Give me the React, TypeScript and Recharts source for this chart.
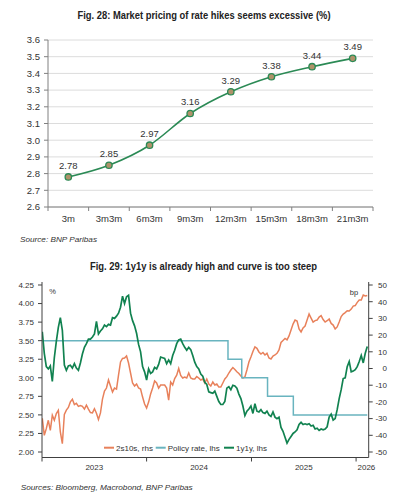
import React from 'react';
import { LineChart, Line, XAxis, YAxis, CartesianGrid, LabelList } from 'recharts';

const FONT = '"Liberation Sans", Arial, Helvetica, sans-serif';

// ---- Fig. 28: market pricing of the policy path (%) ----
const TENORS = ['3m', '3m3m', '6m3m', '9m3m', '12m3m', '15m3m', '18m3m', '21m3m'];
const PRICED_RATE = [2.78, 2.85, 2.97, 3.16, 3.29, 3.38, 3.44, 3.49];
const RATE_TICKS = [2.6, 2.7, 2.8, 2.9, 3.0, 3.1, 3.2, 3.3, 3.4, 3.5, 3.6];

// ---- Fig. 29: 1y1y, 2s10s and policy rate (weekly observations) ----
const WEEK_START = '2023-01-02';
const ONE_Y_ONE_Y = [
  3.62, 3.33, 3.15, 3.12, 3.16, 2.95, 3.27, 3.49, 3.68, 3.81,
  3.64, 3.17, 3.10, 3.16, 3.17, 3.13, 3.19, 3.13, 3.10, 3.20,
  3.32, 3.41, 3.46, 3.52, 3.52, 3.55, 3.59, 3.76, 3.59, 3.63,
  3.66, 3.71, 3.69, 3.72, 3.71, 3.81, 3.80, 3.83, 3.87, 3.95,
  4.10, 4.00, 4.09, 4.11, 3.87, 3.77, 3.70, 3.60, 3.45, 3.35,
  3.15, 3.08, 2.97, 3.12, 3.06, 3.08, 3.14, 3.12, 3.18, 3.28,
  3.27, 3.26, 3.19, 3.24, 3.19, 3.30, 3.37, 3.46, 3.51, 3.52,
  3.46, 3.41, 3.37, 3.41, 3.38, 3.30, 3.21, 3.15, 3.12, 3.05,
  3.02, 2.94, 2.91, 2.81, 2.80, 2.79, 2.82, 2.75, 2.68, 2.64,
  2.64, 2.68, 2.86, 2.88, 2.84, 2.90, 2.89, 2.86, 2.78, 2.72,
  2.62, 2.49, 2.55, 2.58, 2.62, 2.52, 2.65, 2.55, 2.54, 2.57,
  2.53, 2.52, 2.55, 2.50, 2.48, 2.54, 2.47, 2.45, 2.47, 2.33,
  2.28, 2.20, 2.12, 2.17, 2.21, 2.25, 2.27, 2.30, 2.37, 2.40,
  2.37, 2.38, 2.37, 2.38, 2.35, 2.36, 2.31, 2.32, 2.29, 2.31,
  2.30, 2.31, 2.34, 2.47, 2.51, 2.43, 2.45, 2.57, 2.72, 2.84,
  2.99, 3.00, 3.15, 3.22, 3.08, 3.09, 3.11, 3.15, 3.22, 3.30,
  3.20, 3.33, 3.42,
];
const TWOS_TENS = [
  -29.8, -40, -36, -31, -37, -28, -31, -27, -25, -38,
  -45, -27.5, -24.9, -23.3, -20, -18.4, -21.6, -20.8, -22.7, -22.2,
  -22.7, -24.3, -21.9, -24.3, -26.4, -26.6, -24.1, -26.8, -30.5, -26.6,
  -18.3, -13.5, -11.7, -6.9, -10.5, -14.1, -11.7, -12.3, -3.9, 3.9,
  6.0, 6.3, 7.5, 3.3, -2.7, -8.7, -10.5, -9.3, -11.7, -12.3,
  -17.1, -21.3, -23.7, -20.1, -15.3, -11.7, -7.5, -8.7, -11.7, -9.9,
  -9.9, -9.9, -11.7, -18.9, -8.1, -9.9, -6.0, -4.0, 0, -4.2,
  -5.7, -5.1, -5.7, -2.7, -5.7, -6.3, -6.3, -4.8, -5.7, -6.9,
  -6.3, -8.7, -6.3, -9.3, -10.5, -8.1, -9.9, -9.3, -11.1, -11.1,
  -8.7, -6.3, -4.9, -2.7, -0.9, 0.6, -0.6, -1.9, -3.0, -4.5,
  -5.7, -5.1, -0.9, 3.9, 6.9, 10.2, 12.9, 12.1, 9.9, 8.7,
  9.6, 8.1, 9.1, 6.3, 5.7, 7.5, 8.1, 9.1, 11.1, 15.6,
  16.8, 18.0, 17.1, 19.5, 23.1, 26.6, 29.0, 28.4, 23.7, 21.9,
  24.3, 25.4, 29.0, 32.6, 30.2, 27.8, 28.7, 29.0, 30.8, 31.7,
  29.3, 27.8, 28.6, 29.6, 27.0, 26.0, 23.7, 24.9, 27.8, 31.1,
  32.6, 33.5, 34.6, 34.4, 35.6, 37.4, 37.7, 39.6, 41.0, 41.0,
  44.0, 43.4, 43.7,
];
const POLICY_DATES = ['2023-01-02', '2024-10-11', '2024-11-28', '2025-02-26', '2025-05-27', '2026-02-09'];
const POLICY_RATE = [3.5, 3.25, 3.0, 2.75, 2.5, 2.5];
const PCT_TICKS = [2.0, 2.25, 2.5, 2.75, 3.0, 3.25, 3.5, 3.75, 4.0, 4.25];
const BP_TICKS = [-50, -40, -30, -20, -10, 0, 10, 20, 30, 40, 50];
const YEAR_STARTS = ['2023-01-01', '2024-01-01', '2025-01-01', '2026-01-01'];
const X_START = '2023-01-01';
const X_END = '2026-02-14';

const COLORS = {
  curve: '#2b8a55',
  dot: '#b0926a',
  twosTens: '#e8815b',
  policy: '#69b4bf',
  oneYOneY: '#118250',
  text: '#333333',
};

const LEGEND = [
  { label: '2s10s, rhs', color: COLORS.twosTens, x: 104 },
  { label: 'Policy rate, lhs', color: COLORS.policy, x: 155.7 },
  { label: '1y1y, lhs', color: COLORS.oneYOneY, x: 224 },
];

const DAY = 86400000;
const ts = (d: string) => Date.parse(d + 'T00:00:00Z');

const fig28Data = TENORS.map((tenor, i) => ({ pos: i, tenor, rate: PRICED_RATE[i] }));
const tenorBounds = TENORS.map((_, i) => i - 0.5).concat(TENORS.length - 0.5);

const fig29Data = ONE_Y_ONE_Y.map((v, i) => ({
  t: ts(WEEK_START) + i * 7 * DAY,
  oneYOneY: v,
  twosTens: TWOS_TENS[i],
}));
const policyData = POLICY_DATES.map((d, i) => ({ t: ts(d), policy: POLICY_RATE[i] }));
const yearTicks = YEAR_STARTS.map(ts);

// chart 1 frame
const C1 = { w: 415, h: 250, m: { top: 40, right: 42, bottom: 18, left: 8 }, yw: 40 };
const C1_PLOT_W = C1.w - C1.m.left - C1.m.right - C1.yw;
const C1_BAND = C1_PLOT_W / TENORS.length;

// chart 2 frame
const C2 = { w: 415, h: 250, m: { top: 32, right: 10.3, bottom: 22.5, left: 6 }, yw: 36 };
const C2_PLOT_W = C2.w - C2.m.left - C2.m.right - 2 * C2.yw;
const PX_PER_MS = C2_PLOT_W / (ts(X_END) - ts(X_START));

const TenorTick = (props: any) => {
  const { x, y, payload } = props;
  const idx = Math.round(payload.value + 0.5);
  if (idx >= TENORS.length) return <g />;
  return (
    <text x={x + C1_BAND / 2} y={y} dy="0.71em" textAnchor="middle" fontSize={9.5} fill={COLORS.text} fontFamily={FONT}>
      {TENORS[idx]}
    </text>
  );
};

const YearTick = (props: any) => {
  const { x, y, payload } = props;
  const start = payload.value as number;
  const d = new Date(start);
  const next = Date.UTC(d.getUTCFullYear() + 1, 0, 1);
  const shift = next <= ts(X_END) ? ((next - start) / 2) * PX_PER_MS : 10.3;
  return (
    <text x={x + shift} y={y} dy="0.71em" textAnchor="middle" fontSize={8} fill={COLORS.text} fontFamily={FONT}>
      {d.getUTCFullYear()}
    </text>
  );
};

const BpTick = (props: any) => {
  const { x, y, payload } = props;
  return (
    <text x={x + 12.3} y={y} dy="0.355em" textAnchor="end" fontSize={8} fill={COLORS.text} fontFamily={FONT}>
      {payload.value}
    </text>
  );
};

export default function App() {
  return (
    <div style={{ position: 'absolute', left: 0, top: 0, width: 415, height: 500, background: '#fff', fontFamily: FONT }}>
      <div style={{ position: 'absolute', left: 0, top: 0 }}>
        <LineChart width={C1.w} height={C1.h} data={fig28Data} margin={C1.m}>
          <CartesianGrid vertical={false} stroke="#dcdcdc" />
          <XAxis
            dataKey="pos"
            type="number"
            domain={[-0.5, TENORS.length - 0.5]}
            ticks={tenorBounds}
            interval={0}
            tick={<TenorTick />}
            tickSize={4}
            tickMargin={4}
            height={25}
            stroke="#808080"
          />
          <YAxis
            domain={[2.6, 3.6]}
            ticks={RATE_TICKS}
            tickFormatter={(v: number) => v.toFixed(1)}
            width={C1.yw}
            tickSize={4}
            tickMargin={4}
            interval={0}
            stroke="#808080"
            tick={{ fontSize: 9.5, fill: COLORS.text, fontFamily: FONT }}
          />
          <Line
            dataKey="rate"
            type="monotone"
            stroke={COLORS.curve}
            strokeWidth={1.6}
            dot={{ r: 3.2, fill: COLORS.dot, stroke: COLORS.curve, strokeWidth: 1.3 }}
            isAnimationActive={false}
          >
            <LabelList
              dataKey="rate"
              position="top"
              offset={8}
              formatter={(v: any) => Number(v).toFixed(2)}
              style={{ fontSize: 9.5, fill: COLORS.text, fontFamily: FONT }}
            />
          </Line>
        </LineChart>
      </div>

      <div style={{ position: 'absolute', left: 0, top: 250 }}>
        <LineChart width={C2.w} height={C2.h} data={fig29Data} margin={C2.m}>
          <XAxis
            dataKey="t"
            type="number"
            domain={[ts(X_START), ts(X_END)]}
            ticks={yearTicks}
            interval={0}
            tick={<YearTick />}
            tickSize={4}
            tickMargin={2.5}
            height={20}
            stroke="#404040"
            allowDataOverflow
          />
          <YAxis
            yAxisId="pct"
            domain={[1.926, 4.2904]}
            ticks={PCT_TICKS}
            interval={0}
            allowDataOverflow
            tickFormatter={(v: number) => v.toFixed(2)}
            width={C2.yw}
            tickSize={4}
            tickMargin={4}
            stroke="#404040"
            tick={{ fontSize: 8, fill: COLORS.text, fontFamily: FONT }}
          />
          <YAxis
            yAxisId="bp"
            orientation="right"
            domain={[-53.29, 51.8]}
            ticks={BP_TICKS}
            interval={0}
            allowDataOverflow
            width={C2.yw}
            tickSize={4}
            tickMargin={2}
            stroke="#404040"
            tick={<BpTick />}
          />
          <Line yAxisId="bp" dataKey="twosTens" type="linear" stroke={COLORS.twosTens} strokeWidth={1.5} dot={false} isAnimationActive={false} />
          <Line yAxisId="pct" data={policyData} dataKey="policy" type="stepAfter" stroke={COLORS.policy} strokeWidth={1.5} dot={false} isAnimationActive={false} />
          <Line yAxisId="pct" dataKey="oneYOneY" type="linear" stroke={COLORS.oneYOneY} strokeWidth={1.7} dot={false} isAnimationActive={false} />
        </LineChart>
      </div>

      <svg width={415} height={500} style={{ position: 'absolute', left: 0, top: 0, pointerEvents: 'none' }} fontFamily={FONT}>
        <text x={204} y={18.8} textAnchor="middle" fontSize={10.5} fontWeight="bold" fill="#222" textLength={253} lengthAdjust="spacingAndGlyphs">
          Fig. 28: Market pricing of rate hikes seems excessive (%)
        </text>
        <text x={20} y={242} fontSize={8} fontStyle="italic" fill="#333" textLength={77} lengthAdjust="spacingAndGlyphs">
          Source: BNP Paribas
        </text>
        <text x={203.5} y={269.8} textAnchor="middle" fontSize={10.5} fontWeight="bold" fill="#222" textLength={227} lengthAdjust="spacingAndGlyphs">
          Fig. 29: 1y1y is already high and curve is too steep
        </text>
        <text x={52.7} y={293.6} textAnchor="middle" fontSize={7.5} fill="#333">%</text>
        <text x={354} y={294.6} textAnchor="middle" fontSize={7.5} fill="#333">bp</text>
        {LEGEND.map((item) => (
          <g key={item.label}>
            <line x1={item.x} x2={item.x + 10} y1={447.7} y2={447.7} stroke={item.color} strokeWidth={2} />
            <text x={item.x + 12} y={450.6} fontSize={8} fill="#333">{item.label}</text>
          </g>
        ))}
        <text x={20.7} y={490} fontSize={8} fontStyle="italic" fill="#333" textLength={172} lengthAdjust="spacingAndGlyphs">
          Sources: Bloomberg, Macrobond, BNP Paribas
        </text>
      </svg>
    </div>
  );
}
